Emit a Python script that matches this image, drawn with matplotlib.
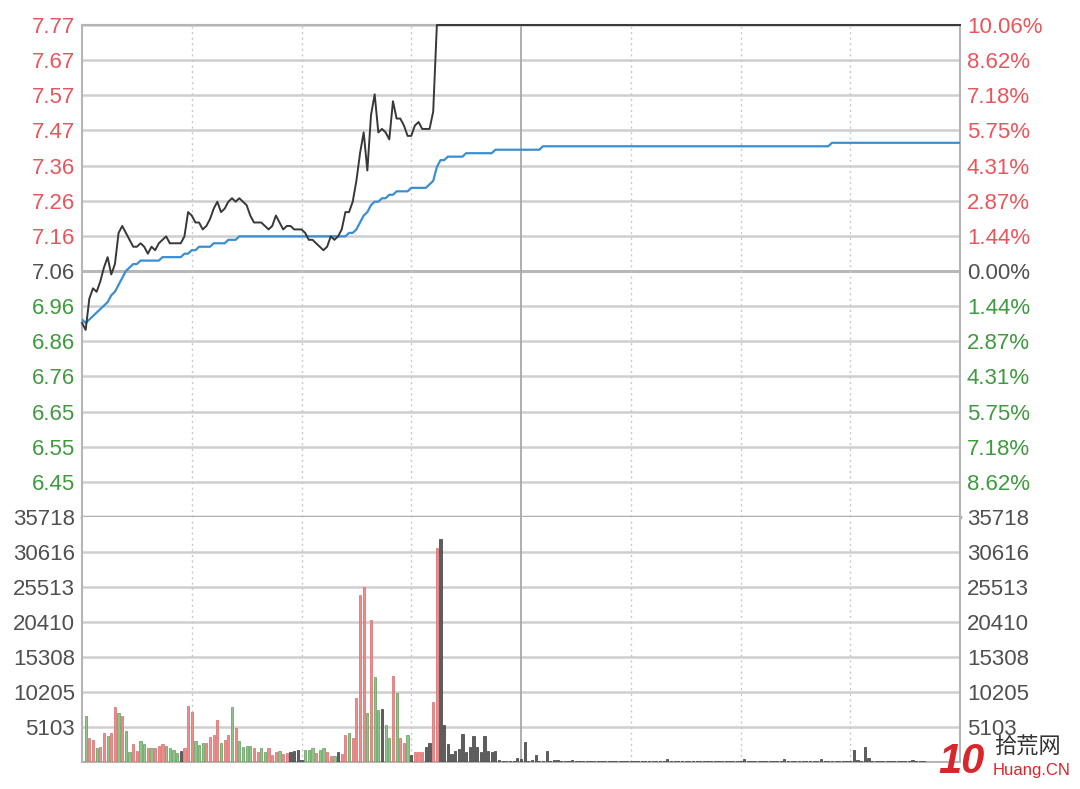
import numpy as np
import matplotlib
matplotlib.use("Agg")
import matplotlib.pyplot as plt

plt.rcParams['font.family'] = ['Liberation Sans', 'Noto Sans CJK SC', 'DejaVu Sans']

# ---------------- data ----------------
prev_close = 7.06
price_labels = ["7.77", "7.67", "7.57", "7.47", "7.36", "7.26", "7.16", "7.06",
                "6.96", "6.86", "6.76", "6.65", "6.55", "6.45"]
pct_labels = ["10.06%", "8.62%", "7.18%", "5.75%", "4.31%", "2.87%", "1.44%", "0.00%",
              "1.44%", "2.87%", "4.31%", "5.75%", "7.18%", "8.62%"]
vol_labels = ["35718", "30616", "25513", "20410", "15308", "10205", "5103"]
price_top, price_bottom = 7.77, 6.35
vol_max = 35718

# minute-by-minute price (0..97), then sealed at limit up 7.77
price_morning = [6.91, 6.89, 6.98, 7.01, 7.00, 7.03, 7.07, 7.10, 7.05, 7.08,
                 7.17, 7.19, 7.17, 7.15, 7.13, 7.13, 7.14, 7.13, 7.11, 7.13,
                 7.12, 7.14, 7.15, 7.16, 7.14, 7.14, 7.14, 7.14, 7.16, 7.23,
                 7.22, 7.20, 7.20, 7.18, 7.19, 7.21, 7.24, 7.26, 7.23, 7.24,
                 7.26, 7.27, 7.26, 7.27, 7.26, 7.25, 7.22, 7.20, 7.20, 7.20,
                 7.19, 7.18, 7.19, 7.22, 7.20, 7.18, 7.19, 7.19, 7.18, 7.18,
                 7.18, 7.17, 7.15, 7.15, 7.14, 7.13, 7.12, 7.13, 7.16, 7.15,
                 7.16, 7.18, 7.23, 7.23, 7.26, 7.32, 7.40, 7.46, 7.35, 7.51,
                 7.57, 7.46, 7.47, 7.46, 7.44, 7.55, 7.50, 7.50, 7.48, 7.45,
                 7.45, 7.48, 7.49, 7.47, 7.47, 7.47, 7.52, 7.77]
price_limit = [7.77] * 143
price = price_morning + price_limit

avg_price = ([6.92, 6.91, 6.92, 6.93, 6.94, 6.95, 6.96, 6.97, 6.99, 7.00,
              7.02, 7.04, 7.06, 7.07, 7.08, 7.08, 7.09, 7.09, 7.09, 7.09,
              7.09, 7.09, 7.10, 7.10, 7.10, 7.10, 7.10, 7.10, 7.11, 7.11,
              7.12, 7.12, 7.13, 7.13, 7.13, 7.13, 7.14, 7.14, 7.14, 7.14,
              7.15, 7.15, 7.15, 7.16]
             + [7.16] * 29
             + [7.17, 7.17, 7.18, 7.20, 7.22, 7.23, 7.25, 7.26, 7.26, 7.27,
                7.27, 7.28, 7.28, 7.29, 7.29, 7.29, 7.29, 7.30, 7.30, 7.30,
                7.30, 7.30, 7.31, 7.32, 7.36, 7.38, 7.38]
             + [7.39] * 5 + [7.40] * 8 + [7.41] * 13 + [7.42] * 79 + [7.43] * 36)

volume = [0, 6700, 3500, 3200, 2000, 2200, 4200, 3800, 4200, 8000,
          7100, 6700, 4500, 1500, 2600, 1600, 3100, 2600, 2000, 2000,
          2000, 2300, 2600, 2300, 2000, 1700, 1300, 1600, 2000, 8200,
          7300, 3100, 2500, 2800, 2800, 3600, 3900, 6100, 2800, 3200,
          3900, 8000, 5000, 3100, 2200, 2300, 2300, 2000, 1500, 2000,
          1500, 2000, 1000, 1500, 1600, 1200, 1300, 1500, 1600, 1700,
          300, 1700, 1700, 2000, 1300, 1700, 2000, 1500, 900, 900,
          1500, 1200, 3900, 4200, 3500, 9300, 24300, 25500, 7100, 20700,
          12400, 7600, 7700, 5400, 3500, 12500, 10000, 3500, 2800, 3900,
          1000, 1500, 1500, 1500, 2200, 2800, 8700, 31200, 32500, 5400,
          2600, 1200, 1600, 1900, 4100, 1500, 2200, 3800, 2200, 1500,
          3800, 1600, 1500, 1600, 300, 150, 100, 150, 200, 600,
          400, 2900, 150, 300, 1000, 100, 200, 1600, 200, 300,
          300, 200, 150, 200, 250, 150, 200, 150, 100, 200,
          150, 200, 150, 150, 200, 150, 100, 150, 200, 150,
          150, 200, 150, 150, 100, 150, 200, 150, 150, 200,
          400, 150, 200, 150, 150, 100, 150, 200, 150, 150,
          200, 150, 150, 200, 150, 100, 150, 150, 200, 150,
          150, 500, 150, 200, 150, 150, 200, 150, 150, 100,
          150, 200, 400, 150, 150, 200, 150, 150, 200, 150,
          150, 200, 400, 150, 150, 200, 150, 150, 200, 200,
          150, 1800, 300, 150, 2200, 650, 200, 150, 150, 200,
          150, 150, 200, 150, 150, 200, 150, 300, 150, 200,
          200]

# r = up, g = down, k = unchanged (one letter per minute)
direction_rows = ["kgrrgrrgrr", "grggrrggrg", "rrrggggkrr", "rgggrrrrgr",
                  "rgrggggrrg", "grrrgrrkkk", "kgggrggrrg", "krrgrrrrgr",
                  "ggkggrgrrg", "krrrkkrrkk"]
direction = list("".join(direction_rows)) + ["k"] * 141

# ---------------- figure ----------------
fig = plt.figure(figsize=(10.8, 7.89), dpi=100)
W, H = 1080, 789
x0, x1 = 82, 960
ax = fig.add_axes([x0 / W, 1 - 517 / H, (x1 - x0) / W, (517 - 25) / H])
axv = fig.add_axes([x0 / W, 1 - 762 / H, (x1 - x0) / W, (762 - 517) / H])

minutes = np.arange(len(price))
red_txt = '#e8565c'
green_txt = '#3f9a3f'
gray_txt = '#505050'
grid_col = '#cfcfcf'

ax.set_xlim(0, 240)
ax.set_ylim(price_bottom, price_top)
axv.set_xlim(0, 240)
axv.set_ylim(0, vol_max)

# horizontal grid
pos_price = np.linspace(price_top, price_bottom, 15)
for i, yv in enumerate(pos_price):
    if i == 7:
        ax.axhline(yv, color='#b8b8b8', lw=2.2, zorder=1)
    else:
        ax.axhline(yv, color=grid_col, lw=1.8, zorder=1)
pos_vol = np.linspace(vol_max, 0, 8)
for yv in pos_vol[1:-1]:
    axv.axhline(yv, color=grid_col, lw=1.8, zorder=1)

# vertical grid
for a in (ax, axv):
    for m in (30, 60, 90, 150, 180, 210):
        a.axvline(m, color='#c8c8c8', lw=1.0, ls=(0, (1.5, 2.5)), zorder=1)
    a.axvline(120, color='#a8a8a8', lw=1.3, zorder=1)

# lines
ax.plot(minutes, avg_price, color='#3b8fd1', lw=1.6, zorder=3)
ax.plot(minutes, price, color='#383838', lw=1.4, zorder=4, clip_on=False)

# volume bars
fill = {'r': '#f28a8a', 'g': '#8fc489', 'k': '#5e5e5e'}
edge = {'r': '#d46a6a', 'g': '#5f9a5a', 'k': '#3c3c3c'}
vm = np.arange(len(volume))
axv.bar(vm, volume, width=0.6, color=[fill[d] for d in direction],
        edgecolor=[edge[d] for d in direction], linewidth=0.5, zorder=3)

# spines
for a in (ax, axv):
    for s in a.spines.values():
        s.set_color('#b5b5b5')
        s.set_linewidth(1.5)
ax.spines['bottom'].set_linewidth(2.5)
ax.spines['bottom'].set_color('#b0b0b0')
axv.spines['top'].set_visible(False)

ax.set_xticks([])
axv.set_xticks([])

# left price labels
ax.set_yticks(pos_price[:-1])
ax.set_yticklabels(price_labels)
ax.tick_params(axis='y', length=0, pad=5, labelsize=16)
for i, t in enumerate(ax.get_yticklabels()):
    t.set_color(red_txt if i < 7 else (gray_txt if i == 7 else green_txt))

axr = ax.twinx()
axr.set_ylim(price_bottom, price_top)
axr.set_yticks(pos_price[:-1])
axr.set_yticklabels(pct_labels)
axr.tick_params(axis='y', length=0, pad=5, labelsize=16)
for i, t in enumerate(axr.get_yticklabels()):
    t.set_color(red_txt if i < 7 else (gray_txt if i == 7 else green_txt))
for s in axr.spines.values():
    s.set_visible(False)

axv.set_yticks(pos_vol[:-1])
axv.set_yticklabels(vol_labels)
axv.tick_params(axis='y', length=0, pad=5, labelsize=16, labelcolor=gray_txt)
axvr = axv.twinx()
axvr.set_ylim(0, vol_max)
axvr.set_yticks(pos_vol[:-1])
axvr.set_yticklabels(vol_labels)
axvr.tick_params(axis='y', length=0, pad=5, labelsize=16, labelcolor=gray_txt)
for s in axvr.spines.values():
    s.set_visible(False)

# watermark
fig.text(938 / W, 1 - 762 / H, "10", color='#d9262c', fontsize=30, fontweight='bold',
         va='center', ha='left', style='italic')
fig.text(994 / W, 1 - 747 / H, "拾荒网", color='#333333', fontsize=16,
         va='center', ha='left', family=['Noto Sans CJK SC'])
fig.text(993 / W, 1 - 771 / H, "Huang.CN", color='#d9262c', fontsize=12,
         va='center', ha='left', family=['Liberation Sans', 'DejaVu Sans'])

fig.savefig("out.png", dpi=100, facecolor='white')
